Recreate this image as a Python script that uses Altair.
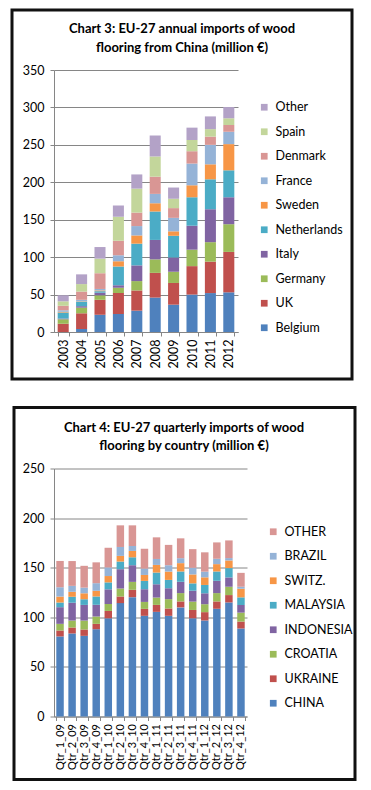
import altair as alt
import pandas as pd

# ---------------- Chart 3 data ----------------
years = ["2003", "2004", "2005", "2006", "2007", "2008", "2009", "2010", "2011", "2012"]
series3 = ["Belgium", "UK", "Germany", "Italy", "Netherlands", "Sweden", "France", "Denmark", "Spain", "Other"]
belgium = [0, 4, 23, 24, 28.5, 46, 36.5, 50, 52, 53]
uk = [11, 21, 20, 28, 27, 33, 29, 38, 42, 54]
germany = [6, 7.5, 6, 7, 12.5, 18, 15, 22, 26, 37]
italy = [1, 2, 3.5, 3.5, 21, 26, 19, 32, 44, 36]
netherlands = [8, 6, 2, 25, 29, 38, 29, 38, 40, 36]
sweden = [1, 0.5, 1, 7, 11, 11, 6, 16, 20, 35]
france = [2, 2, 2, 8, 12.5, 12.5, 18, 29, 26, 16.5]
denmark = [6, 11, 21, 19.5, 18, 23, 13, 16.5, 11, 9]
spain = [6, 10, 19.5, 32, 32, 27, 12.5, 15, 10, 9]
other3 = [8, 13, 15.5, 15, 19, 28, 15, 16.5, 17, 15]
values3 = [belgium, uk, germany, italy, netherlands, sweden, france, denmark, spain, other3]
colors3 = ["#4F81BD", "#C0504D", "#9BBB59", "#8064A2", "#4BACC6",
           "#F79646", "#95B3D7", "#D99694", "#C3D69B", "#B3A2C7"]
ticks3 = [0, 50, 100, 150, 200, 250, 300, 350]

# ---------------- Chart 4 data ----------------
quarters = ["Qtr_1_09", "Qtr_2_09", "Qtr_3_09", "Qtr_4_09",
            "Qtr_1_10", "Qtr_2_10", "Qtr_3_10", "Qtr_4_10",
            "Qtr_1_11", "Qtr_2_11", "Qtr_3_11", "Qtr_4_11",
            "Qtr_1_12", "Qtr_2_12", "Qtr_3_12", "Qtr_4_12"]
series4 = ["CHINA", "UKRAINE", "CROATIA", "INDONESIA", "MALAYSIA", "SWITZ.", "BRAZIL", "OTHER"]
china = [80.7, 83.7, 81.3, 88, 99, 114.3, 120.3, 101.5, 105.5, 101.5, 110, 99, 96.8, 108.6, 115, 88.7]
ukraine = [6, 6, 6.4, 5.4, 7.4, 6.7, 7.4, 7, 7, 7.4, 6, 8.4, 8.4, 7.4, 7.4, 7]
croatia = [6.7, 7, 9, 7.4, 7, 8, 8, 7, 7.4, 9.4, 8.4, 8.4, 8, 8.4, 8.4, 9]
indonesia = [16.8, 18, 15.8, 11.8, 14.8, 19.5, 16.8, 12.8, 13.4, 11, 11.4, 11, 11, 12.4, 9.4, 7.7]
malaysia = [4.7, 6, 5.7, 8.4, 7, 7.7, 8, 8.4, 11.8, 8.4, 10.4, 7.4, 8.4, 9.4, 9.4, 7.7]
switz = [6, 5, 6, 5.7, 6.4, 5.7, 6.4, 6, 7.7, 8.4, 8.4, 9, 7.7, 7.4, 7.7, 8.7]
brazil = [9.4, 6, 5.7, 7.7, 8.7, 9, 5, 6.4, 6, 6.4, 5, 6.7, 5.7, 5.4, 2.4, 2]
other4 = [26.5, 25, 22, 21, 19.8, 21.8, 20.8, 20, 21.8, 20.5, 20, 18.8, 19.5, 16.5, 17.8, 14]
values4 = [china, ukraine, croatia, indonesia, malaysia, switz, brazil, other4]
colors4 = ["#4F81BD", "#C0504D", "#9BBB59", "#8064A2", "#4BACC6", "#F79646", "#95B3D7", "#D99694"]
ticks4 = [0, 50, 100, 150, 200, 250]

title3 = ["Chart 3: EU-27 annual imports of wood", "flooring from China (million €)"]
title4 = ["Chart 4: EU-27 quarterly imports of wood", "flooring by country (million €)"]

FONT = "Lato"
GRID = "#868686"


def long_table(cats, names, values, cat_key):
    rows = []
    for i, (name, vals) in enumerate(zip(names, values)):
        for c, v in zip(cats, vals):
            rows.append({cat_key: c, "series": name, "value": v, "order": i})
    return pd.DataFrame(rows)


df3 = long_table(years, series3, values3, "cat")
df4 = long_table(quarters, series4, values4, "cat")
one = pd.DataFrame({"k": [0]})


def panel(df, cats, names, colors, ticks, titles, w, h, frame, tpos, legpos,
          pad_in, pad_out, xfont):
    bars = alt.Chart(df).mark_bar().encode(
        x=alt.X("cat:N", sort=cats, title=None,
                scale=alt.Scale(paddingInner=pad_in, paddingOuter=pad_out),
                axis=alt.Axis(labelAngle=270, labelFont=FONT, labelFontSize=xfont,
                              labelColor="black", domainColor=GRID, tickColor=GRID,
                              tickSize=4, tickBand="extent", labelPadding=3)),
        y=alt.Y("value:Q", stack="zero", title=None,
                scale=alt.Scale(domain=[ticks[0], ticks[-1]], nice=False),
                axis=alt.Axis(values=ticks, labelFont=FONT, labelFontSize=12.5,
                              labelColor="black", domainColor=GRID, tickColor=GRID,
                              tickSize=4, labelPadding=6, gridColor=GRID, grid=True)),
        color=alt.Color("series:N",
                        scale=alt.Scale(domain=names[::-1], range=colors[::-1]),
                        legend=alt.Legend(orient="none", legendX=legpos[0], legendY=legpos[1],
                                          title=None, symbolType="square", symbolSize=45,
                                          symbolStrokeWidth=0, labelFont=FONT,
                                          labelFontSize=12.5, labelColor="black",
                                          rowPadding=11.5, padding=0, labelOffset=5)),
        order=alt.Order("order:Q", sort="ascending"),
    )
    box = alt.Chart(one).mark_rect(fillOpacity=0, stroke="#111111", strokeWidth=3).encode(
        x=alt.value(frame[0]), x2=alt.value(frame[1]),
        y=alt.value(frame[2]), y2=alt.value(frame[3]))
    t1 = alt.Chart(one).mark_text(text=titles[0], font=FONT, fontSize=13, fontWeight="bold",
                                  align="center", baseline="middle", color="black").encode(
        x=alt.value(tpos[0]), y=alt.value(tpos[1]))
    t2 = alt.Chart(one).mark_text(text=titles[1], font=FONT, fontSize=13, fontWeight="bold",
                                  align="center", baseline="middle", color="black").encode(
        x=alt.value(tpos[0]), y=alt.value(tpos[2]))
    return alt.layer(box, bars, t1, t2).properties(width=w, height=h)


p3 = panel(df3, years, series3, colors3, ticks3, title3, 184, 262,
           (-42, 298, -60, 309), (128, -41, -22), (204, 31), 0.4, 0.2, 12.5)
p4 = panel(df4, quarters, series4, colors4, ticks4, title4, 193, 248,
           (-40, 301, -61, 311), (130, -41, -23), (213, 57), 0.38, 0.19, 11)

chart = alt.vconcat(p3, p4, spacing=24.5).properties(
    padding={"left": 2, "top": 0, "right": 0, "bottom": 0}
).resolve_scale(color="independent").configure_view(stroke=None)

chart.save("out.html", embed_options={"renderer": "svg", "actions": False})
